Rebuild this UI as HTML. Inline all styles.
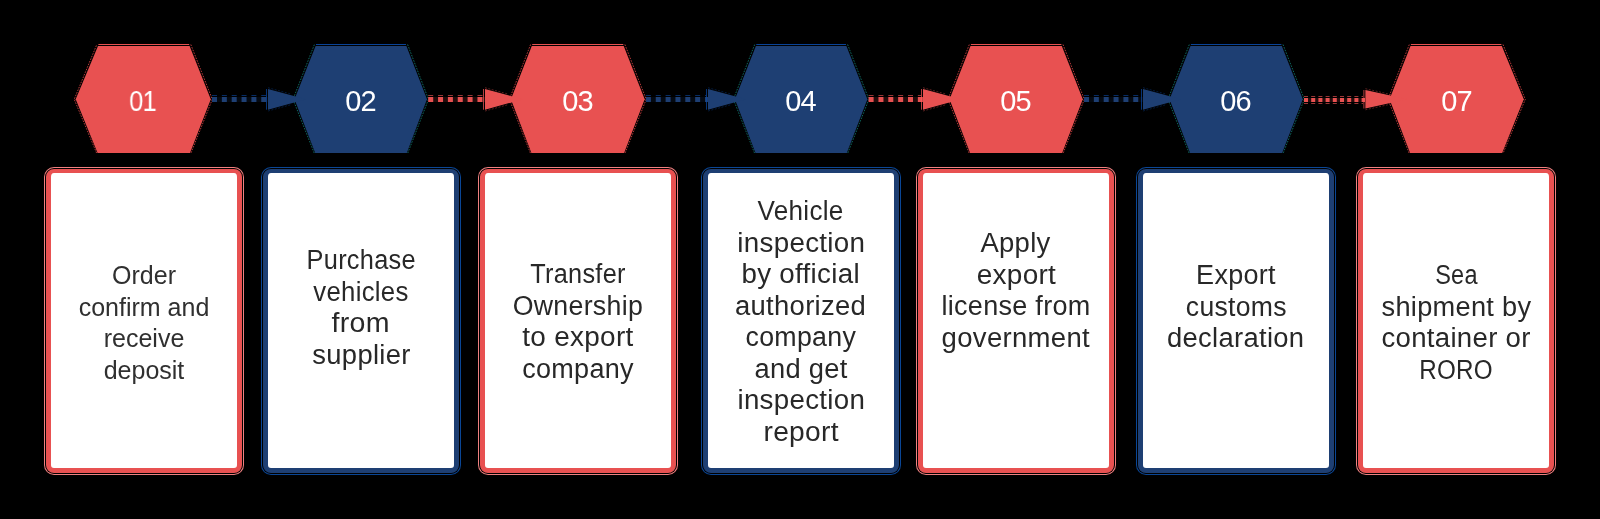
<!DOCTYPE html>
<html><head><meta charset="utf-8"><style>
html,body{margin:0;padding:0;}
body{width:1600px;height:519px;background:#000;position:relative;overflow:hidden;font-family:"Liberation Sans",sans-serif;}
svg{position:absolute;left:0;top:0;}
.card{position:absolute;top:169px;width:186px;height:295px;background:#fff;border:5px solid;border-top-width:4px;border-radius:8px;box-sizing:content-box;}
.card.r{border-color:#e85151;box-shadow:0 0 0 1px #000,0 0 0 2px #f08080;}
.card.b{border-color:#1e3f73;box-shadow:0 0 0 1px #000,0 0 0 2px #0a4696;}
.txt{will-change:transform;position:absolute;left:-10px;right:-10px;text-align:center;color:#282828;font-size:27px;letter-spacing:0.3px;line-height:31.5px;white-space:nowrap;}
.txt.a{font-size:25px;letter-spacing:0;color:#303030;}
.txt div{height:31.5px;}
.txt span{display:inline-block;transform-origin:50% 50%;}
.num{position:absolute;top:81px;width:100px;text-align:center;color:#fff;font-size:29px;letter-spacing:-1px;text-indent:-1px;line-height:40px;will-change:transform;}
</style></head><body>

<svg width="1600" height="519" viewBox="0 0 1600 519">
<polygon points="75.7,99.3 98,46 189.6,46 210.8,99.3 190,153 97.6,153" fill="#e85151"/>
<path d="M96.6,153 L74.2,99.3 L96.8,44.5 M190.8,44.5 L212.3,99.3 L191,153" fill="none" stroke="#ff5050" stroke-width="1" stroke-opacity="0.7" stroke-dasharray="1.6 1.2"/>
<path d="M98.4,44.5 L189.2,44.5" stroke="#ff5a5a" stroke-width="1" stroke-opacity="0.9"/>
<polygon points="294.5,99.3 315.6,46 406.4,46 427,99.3 406.8,153 315.2,153" fill="#1e3f73"/>
<path d="M314.2,153 L293,99.3 L314.4,44.5 M407.6,44.5 L428.5,99.3 L407.8,153" fill="none" stroke="#149088" stroke-width="1" stroke-opacity="0.7" stroke-dasharray="1.6 1.2"/>
<path d="M316,44.5 L406,44.5" stroke="#0a4aa8" stroke-width="1" stroke-opacity="0.9"/>
<polygon points="510.9,99.3 531.8,46 623.7,46 644.7,99.3 624.1,153 531.4,153" fill="#e85151"/>
<path d="M530.4,153 L509.4,99.3 L530.6,44.5 M624.9,44.5 L646.2,99.3 L625.1,153" fill="none" stroke="#ff5050" stroke-width="1" stroke-opacity="0.7" stroke-dasharray="1.6 1.2"/>
<path d="M532.2,44.5 L623.3,44.5" stroke="#ff5a5a" stroke-width="1" stroke-opacity="0.9"/>
<polygon points="734.9,99.3 755.9,46 846.4,46 867.4,99.3 846.8,153 755.5,153" fill="#1e3f73"/>
<path d="M754.5,153 L733.4,99.3 L754.7,44.5 M847.6,44.5 L868.9,99.3 L847.8,153" fill="none" stroke="#149088" stroke-width="1" stroke-opacity="0.7" stroke-dasharray="1.6 1.2"/>
<path d="M756.3,44.5 L846,44.5" stroke="#0a4aa8" stroke-width="1" stroke-opacity="0.9"/>
<polygon points="949.5,99.3 970.5,46 1061.8,46 1082.8,99.3 1062.2,153 970.1,153" fill="#e85151"/>
<path d="M969.1,153 L948,99.3 L969.3,44.5 M1063,44.5 L1084.3,99.3 L1063.2,153" fill="none" stroke="#ff5050" stroke-width="1" stroke-opacity="0.7" stroke-dasharray="1.6 1.2"/>
<path d="M970.9,44.5 L1061.4,44.5" stroke="#ff5a5a" stroke-width="1" stroke-opacity="0.9"/>
<polygon points="1169.5,99.3 1190.5,46 1281.8,46 1302.8,99.3 1282.2,153 1190.1,153" fill="#1e3f73"/>
<path d="M1189.1,153 L1168,99.3 L1189.3,44.5 M1283,44.5 L1304.3,99.3 L1283.2,153" fill="none" stroke="#149088" stroke-width="1" stroke-opacity="0.7" stroke-dasharray="1.6 1.2"/>
<path d="M1190.9,44.5 L1281.4,44.5" stroke="#0a4aa8" stroke-width="1" stroke-opacity="0.9"/>
<polygon points="1389.5,99.3 1410.5,46 1501.8,46 1523.8,99.3 1502.2,153 1410.1,153" fill="#e85151"/>
<path d="M1409.1,153 L1388,99.3 L1409.3,44.5 M1503,44.5 L1525.3,99.3 L1503.2,153" fill="none" stroke="#ff5050" stroke-width="1" stroke-opacity="0.7" stroke-dasharray="1.6 1.2"/>
<path d="M1410.9,44.5 L1501.4,44.5" stroke="#ff5a5a" stroke-width="1" stroke-opacity="0.9"/>
<line x1="212" y1="99.5" x2="268" y2="99.5" stroke="#1e3f73" stroke-width="5" stroke-opacity="0.15"/>
<line x1="212" y1="99.5" x2="268" y2="99.5" stroke="#1e3f73" stroke-width="5" stroke-dasharray="5 4.85"/>
<line x1="212" y1="95.5" x2="266" y2="95.5" stroke="#0a4aa8" stroke-width="1" stroke-dasharray="5 4.85" stroke-opacity="0.6"/>
<polygon points="268,89 268,109.7 306,99.3" fill="#1e3f73"/>
<path d="M266.5,89 L266.5,109.7" stroke="#0a4aa8" stroke-width="1" stroke-opacity="0.7"/>
<path d="M268,87.7 L291.6,94.2 M268,111.0 L291.6,104.5" stroke="#0a4aa8" stroke-width="1" stroke-opacity="0.35" stroke-dasharray="2 1.5"/>
<line x1="428.2" y1="99.5" x2="485" y2="99.5" stroke="#e85151" stroke-width="5" stroke-opacity="0.15"/>
<line x1="428.2" y1="99.5" x2="485" y2="99.5" stroke="#e85151" stroke-width="5" stroke-dasharray="5 4.85"/>
<line x1="428.2" y1="95.5" x2="483" y2="95.5" stroke="#ff5a5a" stroke-width="1" stroke-dasharray="5 4.85" stroke-opacity="0.6"/>
<polygon points="485,89 485,109.7 523,99.3" fill="#e85151"/>
<path d="M483.5,89 L483.5,109.7" stroke="#ff5a5a" stroke-width="1" stroke-opacity="0.7"/>
<path d="M485,87.7 L508.6,94.2 M485,111.0 L508.6,104.5" stroke="#ff5a5a" stroke-width="1" stroke-opacity="0.35" stroke-dasharray="2 1.5"/>
<line x1="645.9" y1="99.5" x2="708" y2="99.5" stroke="#1e3f73" stroke-width="5" stroke-opacity="0.15"/>
<line x1="645.9" y1="99.5" x2="708" y2="99.5" stroke="#1e3f73" stroke-width="5" stroke-dasharray="5 4.85"/>
<line x1="645.9" y1="95.5" x2="706" y2="95.5" stroke="#0a4aa8" stroke-width="1" stroke-dasharray="5 4.85" stroke-opacity="0.6"/>
<polygon points="708,89 708,109.7 746,99.3" fill="#1e3f73"/>
<path d="M706.5,89 L706.5,109.7" stroke="#0a4aa8" stroke-width="1" stroke-opacity="0.7"/>
<path d="M708,87.7 L731.6,94.2 M708,111.0 L731.6,104.5" stroke="#0a4aa8" stroke-width="1" stroke-opacity="0.35" stroke-dasharray="2 1.5"/>
<line x1="868.6" y1="99.5" x2="923" y2="99.5" stroke="#e85151" stroke-width="5" stroke-opacity="0.15"/>
<line x1="868.6" y1="99.5" x2="923" y2="99.5" stroke="#e85151" stroke-width="5" stroke-dasharray="5 4.85"/>
<line x1="868.6" y1="95.5" x2="921" y2="95.5" stroke="#ff5a5a" stroke-width="1" stroke-dasharray="5 4.85" stroke-opacity="0.6"/>
<polygon points="923,89 923,109.7 961,99.3" fill="#e85151"/>
<path d="M921.5,89 L921.5,109.7" stroke="#ff5a5a" stroke-width="1" stroke-opacity="0.7"/>
<path d="M923,87.7 L946.6,94.2 M923,111.0 L946.6,104.5" stroke="#ff5a5a" stroke-width="1" stroke-opacity="0.35" stroke-dasharray="2 1.5"/>
<line x1="1084" y1="99.5" x2="1143" y2="99.5" stroke="#1e3f73" stroke-width="5" stroke-opacity="0.15"/>
<line x1="1084" y1="99.5" x2="1143" y2="99.5" stroke="#1e3f73" stroke-width="5" stroke-dasharray="5 4.85"/>
<line x1="1084" y1="95.5" x2="1141" y2="95.5" stroke="#0a4aa8" stroke-width="1" stroke-dasharray="5 4.85" stroke-opacity="0.6"/>
<polygon points="1143,89 1143,109.7 1181,99.3" fill="#1e3f73"/>
<path d="M1141.5,89 L1141.5,109.7" stroke="#0a4aa8" stroke-width="1" stroke-opacity="0.7"/>
<path d="M1143,87.7 L1166.6,94.2 M1143,111.0 L1166.6,104.5" stroke="#0a4aa8" stroke-width="1" stroke-opacity="0.35" stroke-dasharray="2 1.5"/>
<line x1="1304" y1="100" x2="1365" y2="100" stroke="#e85151" stroke-width="4" stroke-opacity="0.15"/>
<line x1="1304" y1="100" x2="1365" y2="100" stroke="#e85151" stroke-width="4" stroke-dasharray="4 3.2"/>
<line x1="1304" y1="96.5" x2="1363" y2="96.5" stroke="#ff5a5a" stroke-width="1" stroke-dasharray="4 3.2" stroke-opacity="0.6"/>
<line x1="1304" y1="103.5" x2="1363" y2="103.5" stroke="#ff5a5a" stroke-width="1" stroke-dasharray="4 3.2" stroke-opacity="0.6"/>
<polygon points="1365.4,90 1365.4,108.5 1407.4,99.3" fill="#e85151"/>
<path d="M1363.9,90 L1363.9,108.5" stroke="#ff5a5a" stroke-width="1" stroke-opacity="0.7"/>
<path d="M1365.4,88.7 L1391.4,94.6 M1365.4,109.8 L1391.4,104" stroke="#ff5a5a" stroke-width="1" stroke-opacity="0.35" stroke-dasharray="2 1.5"/>
</svg>
<div class="card r" style="left:46px"><div class="txt a" style="top:87px"><div>Order</div><div>confirm and</div><div>receive</div><div>deposit</div></div></div>
<div class="card b" style="left:263px"><div class="txt" style="top:72px"><div><span style="transform:scaleX(0.938)">Purchase</span></div><div><span style="transform:scaleX(0.953)">vehicles</span></div><div><span style="transform:scaleX(1.057)">from</span></div><div><span style="transform:scaleX(1.014)">supplier</span></div></div></div>
<div class="card r" style="left:480px"><div class="txt" style="top:86px"><div><span style="transform:scaleX(0.936)">Transfer</span></div><div><span style="transform:scaleX(0.989)">Ownership</span></div><div><span style="transform:scaleX(1.034)">to export</span></div><div>company</div></div></div>
<div class="card b" style="left:703px"><div class="txt" style="top:23px"><div><span style="transform:scaleX(0.966)">Vehicle</span></div><div><span style="transform:scaleX(1.028)">inspection</span></div><div><span style="transform:scaleX(1.027)">by official</span></div><div><span style="transform:scaleX(1.016)">authorized</span></div><div><span style="transform:scaleX(0.991)">company</span></div><div><span style="transform:scaleX(1.011)">and get</span></div><div><span style="transform:scaleX(1.025)">inspection</span></div><div><span style="transform:scaleX(1.043)">report</span></div></div></div>
<div class="card r" style="left:918px"><div class="txt" style="top:55px"><div><span style="transform:scaleX(1.018)">Apply</span></div><div><span style="transform:scaleX(1.035)">export</span></div><div>license from</div><div><span style="transform:scaleX(1.019)">government</span></div></div></div>
<div class="card b" style="left:1138px"><div class="txt" style="top:87px"><div>Export</div><div><span style="transform:scaleX(0.984)">customs</span></div><div><span style="transform:scaleX(1.014)">declaration</span></div></div></div>
<div class="card r" style="left:1358px"><div class="txt" style="top:87px"><div><span style="transform:scaleX(0.870)">Sea</span></div><div><span style="transform:scaleX(1.007)">shipment by</span></div><div><span style="transform:scaleX(1.021)">container or</span></div><div><span style="transform:scaleX(0.896)">RORO</span></div></div></div>
<div class="num" style="left:93.2px;transform:scaleX(0.88)">01</div>
<div class="num" style="left:310.8px">02</div>
<div class="num" style="left:527.8px">03</div>
<div class="num" style="left:751.2px">04</div>
<div class="num" style="left:966.1px">05</div>
<div class="num" style="left:1186.2px">06</div>
<div class="num" style="left:1406.7px">07</div>
</body></html>
